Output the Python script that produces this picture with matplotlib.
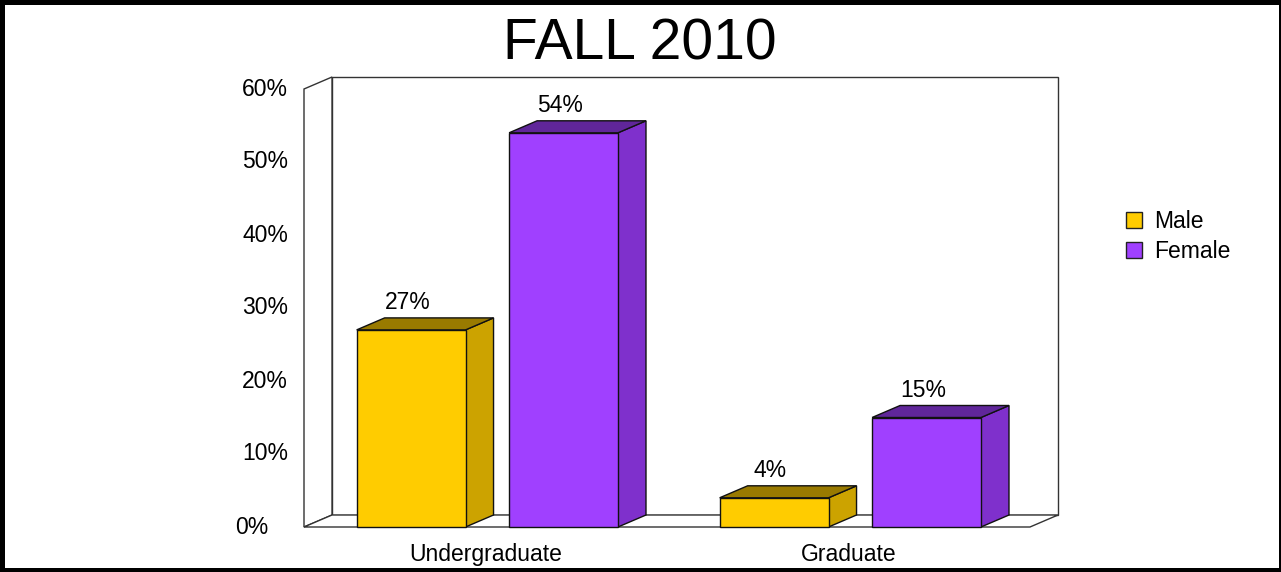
import matplotlib.pyplot as plt
from matplotlib.patches import Polygon, Rectangle

plt.rcParams['font.family'] = ['Liberation Sans', 'DejaVu Sans']

categories = ["Undergraduate", "Graduate"]
series = ["Male", "Female"]
male = [27, 4]
female = [54, 15]
yticks = [0, 10, 20, 30, 40, 50, 60]

face = {"Male": "#FFCC00", "Female": "#A040FF"}
side = {"Male": "#CCA300", "Female": "#7F30CC"}
top = {"Male": "#997A00", "Female": "#60269A"}

W, H = 1281, 572
fig = plt.figure(figsize=(W / 100, H / 100), dpi=100, facecolor="black")
fig.patches.append(Rectangle((5 / W, 4 / H), 1274 / W, 563 / H,
                             transform=fig.transFigure, facecolor="white",
                             edgecolor="none", zorder=-10))

# front plane of the plot: x 304..1030 px, y 527..89 px
ax = fig.add_axes([304 / W, (H - 527) / H, 726 / W, 438 / H])
ax.set_xlim(-0.5, 1.5)
ax.set_ylim(0, 60)
ax.axis("off")
ax.set_zorder(1)

# depth offsets in data units
dx = 28 / 363
dy = 12 / 438 * 60

wall = dict(facecolor="white", edgecolor="#333333", linewidth=1, clip_on=False)
# back wall
ax.add_patch(Polygon([(-0.5 + dx, dy), (1.5 + dx, dy), (1.5 + dx, 60 + dy),
                      (-0.5 + dx, 60 + dy)], **wall, zorder=1))
# left side wall
ax.add_patch(Polygon([(-0.5, 0), (-0.5 + dx, dy), (-0.5 + dx, 60 + dy),
                      (-0.5, 60)], **wall, zorder=1))
# floor
ax.add_patch(Polygon([(-0.5, 0), (1.5, 0), (1.5 + dx, dy), (-0.5 + dx, dy)],
                     **wall, zorder=1))

bw = 0.30
offsets = {"Male": -0.205, "Female": 0.215}
values = {"Male": male, "Female": female}
edge = dict(edgecolor="#111111", linewidth=1, clip_on=False, zorder=3)

for s in series:
    for i, v in enumerate(values[s]):
        x0 = i + offsets[s] - bw / 2
        x1 = x0 + bw
        ax.add_patch(Polygon([(x1, 0), (x1 + dx, dy), (x1 + dx, v + dy), (x1, v)],
                             facecolor=side[s], **edge))
        ax.add_patch(Polygon([(x0, v), (x1, v), (x1 + dx, v + dy), (x0 + dx, v + dy)],
                             facecolor=top[s], **edge))
        ax.add_patch(Polygon([(x0, 0), (x1, 0), (x1, v), (x0, v)],
                             facecolor=face[s], **edge))
        ax.text((x0 + x1) / 2 - 0.01, v + dy + 2.1, f"{v}%", ha="center",
                va="center", fontsize=16.5, zorder=4)

for t in yticks:
    pad = 16 if t >= 10 else 36
    ax.text(-0.5 - pad / 363, t, f"{t}%", ha="right", va="center", fontsize=16.5)

for i, c in enumerate(categories):
    ax.text(i + 0.0, -3.7, c, ha="center", va="center", fontsize=16.5)

fig.text(640 / W, (H - 44) / H, "FALL 2010", ha="center", va="center",
         fontsize=41)

# legend
for k, s in enumerate(series):
    yc = 220 + 30 * k
    fig.patches.append(Rectangle((1126 / W, (H - yc - 8) / H), 16 / W, 16 / H,
                                 transform=fig.transFigure, facecolor=face[s],
                                 edgecolor="#222222", linewidth=1))
    fig.text(1154 / W, (H - yc - 2) / H, s, ha="left", va="center", fontsize=16.5)

fig.savefig("out.png", dpi=100, facecolor=fig.get_facecolor())
